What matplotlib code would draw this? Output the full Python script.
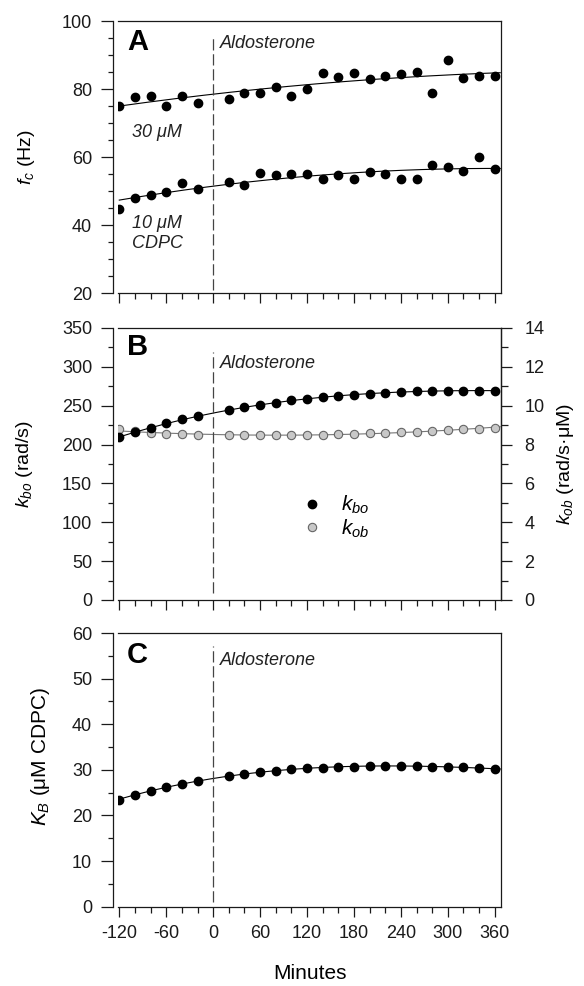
import numpy as np
import matplotlib
matplotlib.use('Agg')
import matplotlib.pyplot as plt
from matplotlib.ticker import MultipleLocator, FixedLocator
from matplotlib.lines import Line2D

plt.rcParams['font.family'] = ['Liberation Sans', 'DejaVu Sans']
plt.rcParams['mathtext.fontset'] = 'custom'
plt.rcParams['mathtext.rm'] = 'Liberation Sans'
plt.rcParams['mathtext.it'] = 'Liberation Sans:italic'
plt.rcParams['mathtext.bf'] = 'Liberation Sans:bold'
plt.rcParams['axes.unicode_minus'] = False

# ---------------- data ----------------
minutes = [-120, -100, -80, -60, -40, -20, 20, 40, 60, 80, 100, 120, 140, 160,
           180, 200, 220, 240, 260, 280, 300, 320, 340, 360]
fc_30uM = [75.1, 77.6, 78.0, 75.1, 78.0, 76.0, 77.2, 78.8, 78.9, 80.7, 78.0, 80.1,
           84.8, 83.4, 84.8, 82.9, 83.9, 84.4, 84.9, 78.7, 88.6, 83.1, 83.9, 83.7]
fc_10uM = [44.8, 47.9, 48.9, 49.8, 52.4, 50.7, 52.7, 51.9, 55.4, 54.7, 55.0, 54.9,
           53.5, 54.7, 53.6, 55.6, 55.0, 53.6, 53.5, 57.7, 57.2, 56.0, 59.9, 56.5]
kbo = [209.6, 216.0, 221.2, 227.2, 232.3, 236.2, 243.9, 247.8, 251.2, 253.4, 256.8,
       259.0, 261.1, 262.4, 264.1, 265.4, 266.7, 267.5, 268.4, 268.8, 269.3, 269.3,
       269.3, 269.3]
kob = [8.78, 8.68, 8.59, 8.56, 8.54, 8.50, 8.47, 8.47, 8.47, 8.47, 8.49, 8.49,
       8.50, 8.52, 8.56, 8.59, 8.61, 8.64, 8.66, 8.71, 8.74, 8.78, 8.81, 8.85]
KB = [23.5, 24.6, 25.4, 26.2, 26.9, 27.5, 28.6, 29.1, 29.5, 29.8, 30.1, 30.4,
      30.5, 30.7, 30.7, 30.8, 30.9, 30.9, 30.8, 30.7, 30.7, 30.6, 30.4, 30.2]
x_ticks = [-120, -60, 0, 60, 120, 180, 240, 300, 360]

# ---------------- figure ----------------
fig = plt.figure(figsize=(5.84, 9.86), dpi=100)
L, W = 0.2029, 0.655
axA = fig.add_axes([L, 0.7028, W, 0.2759])
axB = fig.add_axes([L, 0.3915, W, 0.2759])
axC = fig.add_axes([L, 0.0804, W, 0.2776])

SPC = '#1a1a1a'
TICK_FS = 13


def style(ax, ylim, major, minor, xlabels):
    ax.set_xlim(-121, 368)
    ax.set_ylim(*ylim)
    ax.spines['left'].set_position(('outward', 4.3))
    for s in ax.spines.values():
        s.set_linewidth(0.9)
        s.set_color(SPC)
    ax.xaxis.set_major_locator(FixedLocator(x_ticks))
    ax.xaxis.set_minor_locator(MultipleLocator(20))
    ax.yaxis.set_major_locator(MultipleLocator(major))
    ax.yaxis.set_minor_locator(MultipleLocator(minor))
    ax.tick_params(axis='x', which='major', direction='out', length=7.2, width=0.9,
                   pad=6, labelsize=TICK_FS, color=SPC, labelcolor=SPC,
                   labelbottom=xlabels)
    ax.tick_params(axis='x', which='minor', direction='out', length=4.3, width=0.9,
                   color=SPC)
    ax.tick_params(axis='y', which='major', direction='out', length=8.6, width=0.9,
                   pad=6, labelsize=TICK_FS, color=SPC, labelcolor=SPC)
    ax.tick_params(axis='y', which='minor', direction='out', length=3.6, width=0.9,
                   color=SPC)
    ax.tick_params(which='both', top=False, right=False)


def fit(x, y, deg, xend):
    xs = np.linspace(min(x), xend, 300)
    return xs, np.polyval(np.polyfit(x, y, deg), xs)


dash = (0, (9, 3))
txt_kw = dict(fontsize=13, style='italic', color='#222')

# ---------------- Panel A ----------------
style(axA, (20, 100), 20, 5, False)
for ys in (fc_30uM, fc_10uM):
    xs, yf = fit(minutes, ys, 2, 367)
    axA.plot(xs, yf, color='k', lw=0.8, zorder=2)
    axA.plot(minutes, ys, 'o', color='k', ms=6, zorder=3)
axA.axvline(0, ymin=0.01, ymax=0.94, color='#444', lw=0.9, ls=dash)
axA.text(0.022, 0.893, 'A', transform=axA.transAxes, fontsize=21,
         fontweight='bold', va='baseline')
axA.text(9, 0.90, 'Aldosterone', transform=axA.get_xaxis_transform(),
         va='baseline', **txt_kw)
axA.text(-104, 66.0, '30 μM', va='baseline', **txt_kw)
axA.text(-104, 39.0, '10 μM', va='baseline', **txt_kw)
axA.text(-104, 33.1, 'CDPC', va='baseline', **txt_kw)
axA.set_ylabel(r'$f_c$ (Hz)', fontsize=14)
axA.yaxis.set_label_coords(-0.213, 0.5)

# ---------------- Panel B ----------------
style(axB, (0, 350), 50, 25, False)
axB2 = axB.twinx()
axB2.set_ylim(0, 14)
for s in ('left', 'top', 'bottom'):
    axB2.spines[s].set_visible(False)
axB2.spines['right'].set_linewidth(0.9)
axB2.spines['right'].set_color(SPC)
axB2.yaxis.set_major_locator(MultipleLocator(2))
axB2.yaxis.set_minor_locator(MultipleLocator(1))
axB2.tick_params(axis='y', which='major', direction='out', length=8.0, width=0.9,
                 pad=9, labelsize=TICK_FS, color=SPC, labelcolor=SPC)
axB2.tick_params(axis='y', which='minor', direction='out', length=5.0, width=0.9,
                 color=SPC)
xs, yf = fit(minutes, kob, 2, 367)
axB2.plot(xs, yf, color='#777', lw=0.8, zorder=2)
axB2.plot(minutes, kob, 'o', mfc='#c8c8c8', mec='#666', mew=0.8, ms=6, zorder=3)
axB.set_zorder(axB2.get_zorder() + 1)
axB.patch.set_visible(False)
xs, yf = fit(minutes, kbo, 3, 360)
axB.plot(xs, yf, color='k', lw=0.8, zorder=2)
axB.plot(minutes, kbo, 'o', color='k', ms=6, zorder=3)
axB.axvline(0, ymin=0.025, ymax=0.913, color='#444', lw=0.9, ls=dash)
axB.text(0.022, 0.901, 'B', transform=axB.transAxes, fontsize=21,
         fontweight='bold', va='baseline')
axB.text(9, 0.852, 'Aldosterone', transform=axB.get_xaxis_transform(),
         va='baseline', **txt_kw)
handles = [Line2D([], [], ls='none', marker='o', color='k', ms=6),
           Line2D([], [], ls='none', marker='o', mfc='#c8c8c8', mec='#666',
                  mew=0.8, ms=6)]
axB.legend(handles, [r'$k_{bo}$', r'$k_{ob}$'], loc='center left',
           bbox_to_anchor=(0.452, 0.305), frameon=False, fontsize=15,
           handletextpad=0.9, labelspacing=0.05, borderpad=0, handlelength=1.0)
axB.set_ylabel(r'$k_{bo}$ (rad/s)', fontsize=14)
axB.yaxis.set_label_coords(-0.218, 0.5)
axB2.set_ylabel(r'$k_{ob}$ (rad/s·μM)', fontsize=14)
axB2.yaxis.set_label_coords(1.141, 0.5)

# ---------------- Panel C ----------------
style(axC, (0, 60), 10, 5, True)
xs, yf = fit(minutes, KB, 3, 367)
axC.plot(xs, yf, color='k', lw=0.8, zorder=2)
axC.plot(minutes, KB, 'o', color='k', ms=6, zorder=3)
axC.axvline(0, ymin=0.016, ymax=0.952, color='#444', lw=0.9, ls=dash)
axC.text(0.022, 0.889, 'C', transform=axC.transAxes, fontsize=21,
         fontweight='bold', va='baseline')
axC.text(9, 0.883, 'Aldosterone', transform=axC.get_xaxis_transform(),
         va='baseline', **txt_kw)
axC.set_ylabel(r'$K_B$ (μM CDPC)', fontsize=15)
axC.yaxis.set_label_coords(-0.175, 0.547)
axC.set_xlabel('Minutes', fontsize=15)
axC.xaxis.set_label_coords(0.5, -0.21)

fig.savefig('out.png', dpi=100)
